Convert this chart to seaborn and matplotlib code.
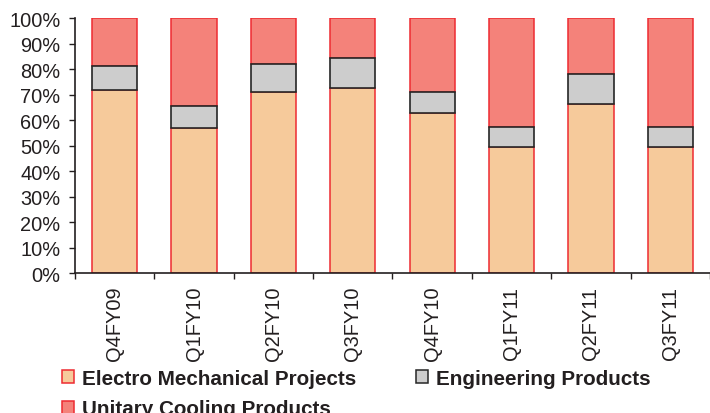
import numpy as np
import pandas as pd
import matplotlib
matplotlib.use("Agg")
import matplotlib.pyplot as plt
from matplotlib.patches import Patch
from matplotlib.ticker import FixedLocator, PercentFormatter
import seaborn as sns

quarters = ["Q4FY09", "Q1FY10", "Q2FY10", "Q3FY10", "Q4FY10", "Q1FY11", "Q2FY11", "Q3FY11"]
electro_mech = [72.0, 57.0, 71.0, 72.5, 63.0, 49.6, 66.5, 49.6]
engineering = [9.2, 8.8, 11.0, 11.8, 8.0, 7.8, 11.8, 7.8]
unitary = [100 - a - b for a, b in zip(electro_mech, engineering)]
series_names = ["Electro Mechanical Projects", "Engineering Products", "Unitary Cooling Products"]

sns.set_theme(style="white")
plt.rcParams["font.family"] = ["Liberation Sans", "DejaVu Sans"]
text_color = "#231F20"

df = pd.DataFrame({"quarter": quarters, "emp": electro_mech, "ep": engineering, "ucp": unitary})
base_ep = np.array(electro_mech)
base_ucp = base_ep + np.array(engineering)

fig = plt.figure(figsize=(7.10, 4.14), dpi=100)
ax = fig.add_axes([0.1056, 0.338, 0.8944, 0.615])

c_orange, c_grey, c_red = "#F6CA9B", "#CDCDCD", "#F4827A"
e_red, e_dark = "#EE2B31", "#262626"
bw = 0.57

# stacked segments: project share at the base, engineering in the middle, unitary cooling on top
sns.barplot(data=df, x="quarter", y="emp", color=c_orange, saturation=1, width=bw,
            edgecolor=e_red, linewidth=1.1, ax=ax)
sns.barplot(data=df, x="quarter", y="ucp", color=c_red, saturation=1, width=bw,
            bottom=base_ucp, edgecolor=e_red, linewidth=1.1, ax=ax)
sns.barplot(data=df, x="quarter", y="ep", color=c_grey, saturation=1, width=bw,
            bottom=base_ep, edgecolor=e_dark, linewidth=1.2, ax=ax)

ax.set_xlim(-0.5, len(quarters) - 0.5)
ax.set_ylim(0, 100)
ax.yaxis.set_major_locator(FixedLocator(np.arange(0, 101, 10)))
ax.yaxis.set_major_formatter(PercentFormatter(decimals=0))
ax.set_xlabel("")
ax.set_ylabel("")

for s in ["top", "right"]:
    ax.spines[s].set_visible(False)
for s in ["left", "bottom"]:
    ax.spines[s].set_color(text_color)
    ax.spines[s].set_linewidth(1.2)

ax.tick_params(axis="y", which="major", length=4.5, width=1.0, color=text_color,
               labelsize=14.4, labelcolor=text_color, direction="out", left=True, pad=6)
ax.set_xticks(range(len(quarters)))
ax.set_xticklabels(quarters, rotation=90)
ax.tick_params(axis="x", which="major", length=0, labelsize=14.4, labelcolor=text_color, pad=9)
ax.set_xticks(np.arange(-0.5, len(quarters)), minor=True)
ax.tick_params(axis="x", which="minor", length=4.5, width=1.0, color=text_color, direction="out", bottom=True)

handles = [
    Patch(facecolor=c_orange, edgecolor=e_red, linewidth=1.1, label=series_names[0]),
    Patch(facecolor=c_red, edgecolor=e_red, linewidth=1.1, label=series_names[2]),
    Patch(facecolor=c_grey, edgecolor=e_dark, linewidth=1.1, label=series_names[1]),
]
leg = fig.legend(handles=handles, ncol=2, loc="upper left", bbox_to_anchor=(0.087, 0.106),
                 frameon=False, prop={"weight": "bold", "size": 14.9},
                 handlelength=0.58, handleheight=0.58, handletextpad=0.39,
                 columnspacing=2.9, labelspacing=0.55, borderaxespad=0, borderpad=0)
for t in leg.get_texts():
    t.set_color(text_color)

fig.savefig("out.png", dpi=100)
